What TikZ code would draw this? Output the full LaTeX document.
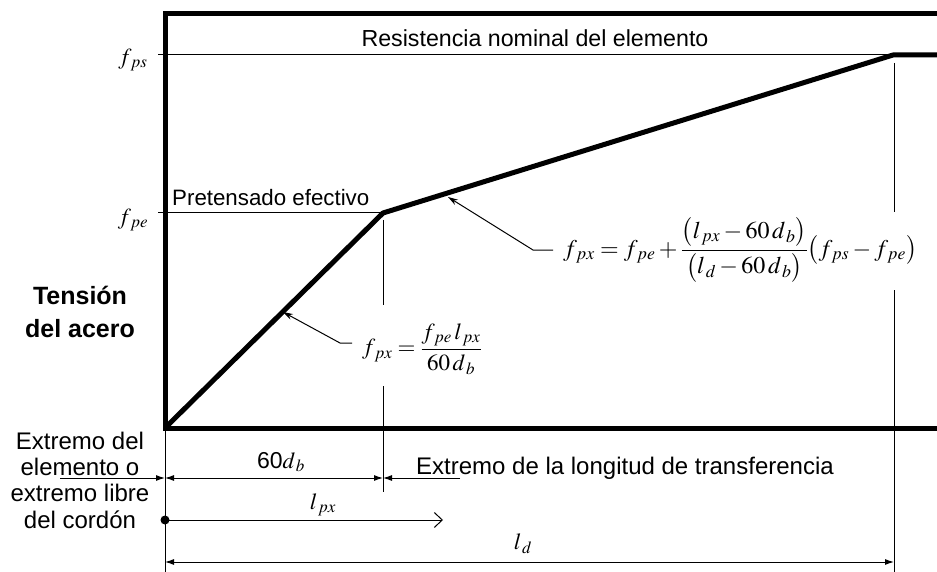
\documentclass[tikz,border=0pt]{standalone}
\usepackage{amsmath}
\usepackage{mathptmx}
\usepackage[no-math]{fontspec}
\setmainfont{Liberation Sans}
\usetikzlibrary{arrows.meta}
\begin{document}
\begin{tikzpicture}[x=1pt,y=-1pt,
  thickl/.style={line width=5pt},
  thinl/.style={line width=1pt},
  dim/.style={line width=1pt,{Latex[length=9pt,width=6pt]}-{Latex[length=9pt,width=6pt]}},
  lbl/.style={font=\fontsize{23}{27}\selectfont, inner sep=0pt},
  mth/.style={font=\fontsize{23}{27}\selectfont, inner sep=0pt},
  leader/.style={line width=1pt,-{Stealth[length=10pt,width=6pt]}}]
\useasboundingbox (0,0) rectangle (937,572);
% key points
\coordinate (O) at (165,428);
\coordinate (T) at (383,213);
\coordinate (S) at (893,55);
\coordinate (E) at (940,55);
% frame
\draw[thickl] (165,14) -- (940,14);
\draw[thickl] (165,428) -- (940,428);
\draw[thickl] (165,11.5) -- (165,430.5);
% reference lines
\draw[thinl] (158,55) -- (S);
\draw[thinl] (158,213) -- (T);
% stress curve
\draw[thickl,line join=round] (O) -- (T) -- (S) -- (E);
% verticals
\draw[thinl] (383,220) -- (383,305);
\draw[thinl] (383,386) -- (383,492);
\draw[thinl] (894,63) -- (894,212);
\draw[thinl] (894,290) -- (894,572);
\draw[thinl] (165,428) -- (165,572);
% axis labels
\node[mth] (fps) at (133,60) {$f_{\,ps}$};
\node[mth] (fpe) at (133,220) {$f_{\,pe}$};
\node[inner sep=0pt,font=\fontsize{25}{33}\selectfont\bfseries,align=center] (ten) at (80,312) {Tensión\\del acero};
\node[lbl,font=\fontsize{23.2}{27}\selectfont] (res) at (535,38) {Resistencia nominal del elemento};
\node[lbl,font=\fontsize{22.3}{27}\selectfont,anchor=west] (pre) at (172,198) {Pretensado efectivo};
\node[lbl,align=center,font=\fontsize{24}{26.3}\selectfont] (ext) at (80,480) {Extremo del\\elemento o\\extremo libre\\del cordón};
\node[lbl,font=\fontsize{24}{27}\selectfont,anchor=west] (trf) at (416,468) {Extremo de la longitud de transferencia};
% formulas
\node[mth,anchor=west] (f1) at (362,349) {$f_{\,px}=\dfrac{f_{\,pe}\,l_{\,px}}{60\,d_{\,b}}$};
\node[mth,font=\fontsize{24}{28}\selectfont,anchor=west] (f2) at (563,250) {$f_{\,px}=f_{\,pe}+\dfrac{\bigl(l_{\,px}-60\,d_{\,b}\bigr)}{\bigl(l_{\,d}-60\,d_{\,b}\bigr)}\bigl(f_{\,ps}-f_{\,pe}\bigr)$};
\coordinate (a1) at (283,312);
\coordinate (a2) at (448,197);
\draw[leader] (f1.west) ++(-10,-6) -- ++(-12,0) -- (a1);
\draw[leader] (f2.west) ++(-10,0) -- ++(-20,0) -- (a2);
% dimensions
\coordinate (d0) at (165,478);
\coordinate (d1) at (383,478);
\coordinate (dl) at (60,478);
\coordinate (dr) at (460,478);
\draw[dim] (d0) -- (d1);
\draw[line width=1pt,-{Latex[length=9pt,width=6pt]}] (dl) -- (d0);
\draw[line width=1pt,-{Latex[length=9pt,width=6pt]}] (dr) -- (d1);
\node[lbl] (l60) at (281,462) {60$d_{\,b}$};
\coordinate (p0) at (165,520);
\coordinate (p1) at (443,520);
\fill (p0) circle (4.5);
\draw[line width=1pt,-{Straight Barb[length=8pt,width=15pt]}] (p0) -- (p1);
\node[mth] (lpx) at (323,505) {$l_{\,px}$};
\coordinate (q0) at (165,562);
\coordinate (q1) at (894,562);
\draw[dim] (q0) -- (q1);
\node[mth] (ld) at (523,544) {$l_{\,d}$};
\end{tikzpicture}
\end{document}
